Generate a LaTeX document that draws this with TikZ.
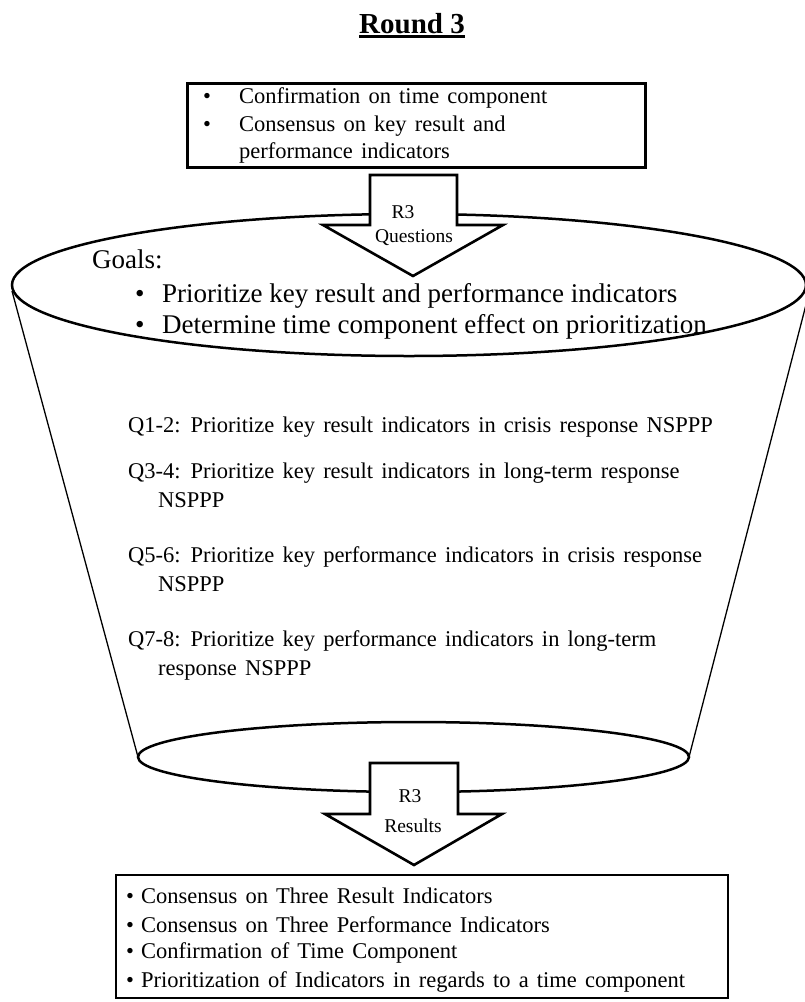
\documentclass[tikz,border=0pt]{standalone}
\usepackage{fontspec}
\setmainfont{Liberation Serif}
\newfontfamily\widespace{Liberation Serif}[WordSpace=1.45]
\begin{document}
\begin{tikzpicture}[x=1pt,y=-1pt,
  txt/.style={inner sep=0pt, anchor=base west, font=\widespace\fontsize{22.5}{26}\selectfont},
  goal/.style={inner sep=0pt, anchor=base west, font=\fontsize{27}{31}\selectfont},
  arrowlbl/.style={inner sep=0pt, anchor=base, font=\fontsize{19.5}{23}\selectfont},
  blockarrow/.style={draw, fill=white, line width=2.6pt, line join=miter},
  funnelrim/.style={draw, line width=2.5pt},
  funnelside/.style={draw, line width=1.3pt}]
\useasboundingbox (0,0) rectangle (805,1002);

% title
\node[inner sep=0pt, anchor=base, font=\bfseries\fontsize{29}{34}\selectfont] (title) at (412,33) {Round 3};
\draw[line width=2.6pt] ([yshift=-3.5pt]title.base west) -- ([yshift=-3.5pt]title.base east);

% funnel body
\coordinate (tl) at (12,291);
\coordinate (tr) at (808,297);
\coordinate (bl) at (138,757);
\coordinate (br) at (689,757);
\draw[funnelside] (tl) -- (bl);
\draw[funnelside] (tr) -- (br);
\draw[funnelrim] (413.5,757) ellipse [x radius=275.5, y radius=35];
\draw[funnelrim] (409,285) ellipse [x radius=397, y radius=71];

% goals on the rim
\node[goal] (goals) at (92,268) {Goals:};
\node[goal] (g1b) at (135,302) {•};
\node[goal] (g1) at (162,302) {Prioritize key result and performance indicators};
\node[goal] (g2b) at (135,333) {•};
\node[goal] (g2) at (162,333) {Determine time component effect on prioritization};

% questions inside the funnel
\node[txt] (q1) at (128,432) {Q1-2: Prioritize key result indicators in crisis response NSPPP};
\node[txt] (q3) at (128,478) {Q3-4: Prioritize key result indicators in long-term response};
\node[txt] (q3b) at (158,507) {NSPPP};
\node[txt] (q5) at (128,562) {Q5-6: Prioritize key performance indicators in crisis response};
\node[txt] (q5b) at (158,591) {NSPPP};
\node[txt] (q7) at (128,646) {Q7-8: Prioritize key performance indicators in long-term};
\node[txt] (q7b) at (158,675) {response NSPPP};

% input box
\draw[line width=3pt] (187,83) rectangle (645,167);
\node[txt] (t1b) at (203,103) {•};
\node[txt] (t1) at (239,103) {Confirmation on time component};
\node[txt] (t2b) at (203,131) {•};
\node[txt] (t2) at (239,131) {Consensus on key result and};
\node[txt] (t3) at (239,158) {performance indicators};

% arrow into the funnel
\draw[blockarrow] (370,175) -- (457,175) -- (457,225) -- (503,225) -- (413,276)
  -- (323,225) -- (370,225) -- cycle;
\node[arrowlbl] (a1a) at (403,218) {R3};
\node[arrowlbl] (a1b) at (414,242) {Questions};

% arrow out of the funnel
\draw[blockarrow] (370,763) -- (458,763) -- (458,814) -- (502,814) -- (414,865)
  -- (325,814) -- (370,814) -- cycle;
\node[arrowlbl] (a2a) at (410,802) {R3};
\node[arrowlbl] (a2b) at (413,832) {Results};

% output box
\draw[line width=1.5pt] (116,875) rectangle (728,998);
\node[txt] (b1b) at (126,903) {•};
\node[txt] (b1) at (141,903) {Consensus on Three Result Indicators};
\node[txt] (b2b) at (126,932) {•};
\node[txt] (b2) at (141,932) {Consensus on Three Performance Indicators};
\node[txt] (b3b) at (126,958) {•};
\node[txt] (b3) at (141,958) {Confirmation of Time Component};
\node[txt] (b4b) at (126,987) {•};
\node[txt] (b4) at (141,987) {Prioritization of Indicators in regards to a time component};
\end{tikzpicture}
\end{document}
